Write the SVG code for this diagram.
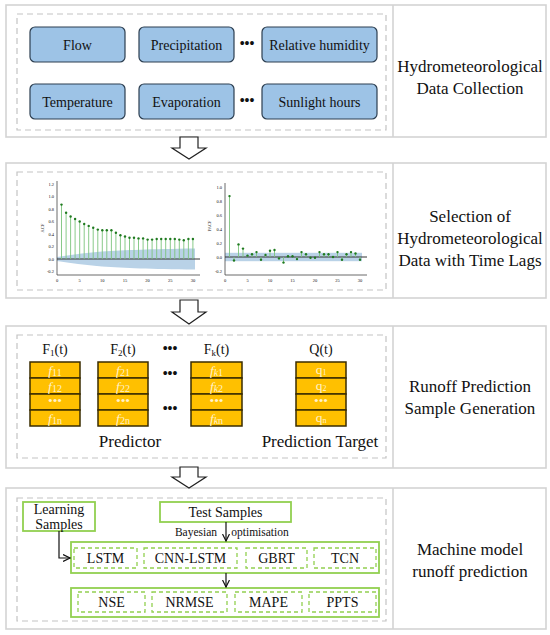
<svg xmlns="http://www.w3.org/2000/svg" width="550" height="635" viewBox="0 0 550 635" font-family="'Liberation Serif','Times New Roman',serif">
<defs>
<style>
text{font-family:"Liberation Serif","Times New Roman",serif;fill:#111}
.panel{fill:#fff;stroke:#d4d4d4;stroke-width:1.6}
.div{stroke:#d4d4d4;stroke-width:1.6}
.dash{fill:none;stroke:#c4c4c4;stroke-width:1.2;stroke-dasharray:6,4}
.blue{fill:#9dc3e6;stroke:#2c3e50;stroke-width:1.2}
.bt{font-size:14px;text-anchor:middle}
.rt{font-size:17px;text-anchor:middle}
.dots{font-size:14px;font-weight:bold;text-anchor:middle}
.yel{fill:#ffc000;stroke:#3a2c00;stroke-width:1.5}
.yt{font-size:13.5px;text-anchor:middle;fill:#fff2cc}
.lab{font-size:14px;text-anchor:middle}
.big{font-size:17px;text-anchor:middle}
.g{fill:none;stroke:#92d050;stroke-width:1.8}
.gd{fill:none;stroke:#92d050;stroke-width:1.3;stroke-dasharray:4,3}
.gt{font-size:14px;text-anchor:middle}
.blk{fill:#fff;stroke:#222;stroke-width:1.2}
.ax{stroke:#444;stroke-width:0.8;fill:none}
.st{stroke:#7cc47c;stroke-width:0.9}
.mk{fill:#1f7a1f}
.tk{font-size:4.5px;fill:#333}
.con{fill:none;stroke:#111;stroke-width:1.2}
</style>
<marker id="ah" viewBox="0 0 8 8" refX="7" refY="4" markerWidth="8" markerHeight="8" markerUnits="userSpaceOnUse" orient="auto">
<path d="M0,0.5 L7,4 L0,7.5" fill="none" stroke="#111" stroke-width="1.2"/>
</marker>
</defs>
<rect width="550" height="635" fill="#fff"/>

<!-- Panel 1 -->
<g id="panel1">
<rect class="panel" x="6" y="5" width="540" height="132"/>
<line class="div" x1="393" y1="5" x2="393" y2="137"/>
<rect class="dash" x="17" y="14" width="369" height="116"/>
<text class="rt" x="470" y="72">Hydrometeorological</text>
<text class="rt" x="470" y="94">Data Collection</text>
</g>
<g id="flow"><rect class="blue" x="30" y="27" width="95" height="35" rx="5"/><text class="bt" x="77.5" y="49.5">Flow</text></g>
<g id="precipitation"><rect class="blue" x="139" y="27" width="95" height="35" rx="5"/><text class="bt" x="186.5" y="49.5">Precipitation</text></g>
<g id="relhum"><rect class="blue" x="262" y="27" width="115" height="35" rx="5"/><text class="bt" x="319.5" y="49.5">Relative humidity</text></g>
<g id="temperature"><rect class="blue" x="30" y="84" width="95" height="35" rx="5"/><text class="bt" x="77.5" y="106.5">Temperature</text></g>
<g id="evaporation"><rect class="blue" x="139" y="84" width="95" height="35" rx="5"/><text class="bt" x="186.5" y="106.5">Evaporation</text></g>
<g id="sunlight"><rect class="blue" x="262" y="84" width="115" height="35" rx="5"/><text class="bt" x="319.5" y="106.5">Sunlight hours</text></g>
<text class="dots" x="247" y="48">•••</text>
<text class="dots" x="247" y="105">•••</text>

<!-- Panel 2 -->
<g id="panel2">
<rect class="panel" x="6" y="163" width="540" height="135"/>
<line class="div" x1="393" y1="163" x2="393" y2="298"/>
<rect class="dash" x="17" y="172" width="369" height="118"/>
<text class="rt" x="470" y="222">Selection of</text>
<text class="rt" x="470" y="244">Hydrometeorological</text>
<text class="rt" x="470" y="266">Data with Time Lags</text>
</g>
<g id="acf">
<path d="M57,257 C70,255 85,253 102,251.5 C125,250 150,249 195,248.4 L195,269.6 C150,269 125,268 102,266.5 C85,265 70,263 57,261 Z" fill="#a7c7e1" opacity="0.8"/>
<line class="ax" x1="57" y1="181" x2="57" y2="275"/>
<line class="ax" x1="57" y1="275" x2="200" y2="275"/>
<line x1="57" y1="259" x2="200" y2="259" stroke="#333" stroke-width="1"/>
<g class="st">
<line x1="61.5" y1="259" x2="61.5" y2="204.6"/><line x1="66.1" y1="259" x2="66.1" y2="212.8"/><line x1="70.6" y1="259" x2="70.6" y2="216.5"/><line x1="75.1" y1="259" x2="75.1" y2="219"/><line x1="79.7" y1="259" x2="79.7" y2="221.5"/><line x1="84.2" y1="259" x2="84.2" y2="224"/><line x1="88.7" y1="259" x2="88.7" y2="225.9"/><line x1="93.2" y1="259" x2="93.2" y2="227.8"/><line x1="97.8" y1="259" x2="97.8" y2="229.6"/><line x1="102.3" y1="259" x2="102.3" y2="230.3"/><line x1="106.8" y1="259" x2="106.8" y2="230.3"/><line x1="111.4" y1="259" x2="111.4" y2="230.3"/><line x1="115.9" y1="259" x2="115.9" y2="232.8"/><line x1="120.4" y1="259" x2="120.4" y2="235.3"/><line x1="125" y1="259" x2="125" y2="236.5"/><line x1="129.5" y1="259" x2="129.5" y2="237.8"/><line x1="134" y1="259" x2="134" y2="237.8"/><line x1="138.5" y1="259" x2="138.5" y2="238.4"/><line x1="143.1" y1="259" x2="143.1" y2="238.4"/><line x1="147.6" y1="259" x2="147.6" y2="239.6"/><line x1="152.1" y1="259" x2="152.1" y2="239.6"/><line x1="156.7" y1="259" x2="156.7" y2="239"/><line x1="161.2" y1="259" x2="161.2" y2="239"/><line x1="165.7" y1="259" x2="165.7" y2="239"/><line x1="170.3" y1="259" x2="170.3" y2="239"/><line x1="174.8" y1="259" x2="174.8" y2="239"/><line x1="179.3" y1="259" x2="179.3" y2="239.6"/><line x1="183.8" y1="259" x2="183.8" y2="240.3"/><line x1="188.4" y1="259" x2="188.4" y2="239"/><line x1="192.9" y1="259" x2="192.9" y2="239"/>
</g>
<g class="mk">
<circle cx="61.5" cy="204.6" r="1.2"/><circle cx="66.1" cy="212.8" r="1.2"/><circle cx="70.6" cy="216.5" r="1.2"/><circle cx="75.1" cy="219" r="1.2"/><circle cx="79.7" cy="221.5" r="1.2"/><circle cx="84.2" cy="224" r="1.2"/><circle cx="88.7" cy="225.9" r="1.2"/><circle cx="93.2" cy="227.8" r="1.2"/><circle cx="97.8" cy="229.6" r="1.2"/><circle cx="102.3" cy="230.3" r="1.2"/><circle cx="106.8" cy="230.3" r="1.2"/><circle cx="111.4" cy="230.3" r="1.2"/><circle cx="115.9" cy="232.8" r="1.2"/><circle cx="120.4" cy="235.3" r="1.2"/><circle cx="125" cy="236.5" r="1.2"/><circle cx="129.5" cy="237.8" r="1.2"/><circle cx="134" cy="237.8" r="1.2"/><circle cx="138.5" cy="238.4" r="1.2"/><circle cx="143.1" cy="238.4" r="1.2"/><circle cx="147.6" cy="239.6" r="1.2"/><circle cx="152.1" cy="239.6" r="1.2"/><circle cx="156.7" cy="239" r="1.2"/><circle cx="161.2" cy="239" r="1.2"/><circle cx="165.7" cy="239" r="1.2"/><circle cx="170.3" cy="239" r="1.2"/><circle cx="174.8" cy="239" r="1.2"/><circle cx="179.3" cy="239.6" r="1.2"/><circle cx="183.8" cy="240.3" r="1.2"/><circle cx="188.4" cy="239" r="1.2"/><circle cx="192.9" cy="239" r="1.2"/>
</g>
<g class="tk" text-anchor="end">
<text x="54" y="185.5">1.2</text><text x="54" y="198">1.0</text><text x="54" y="210.5">0.8</text><text x="54" y="223">0.6</text><text x="54" y="235.5">0.4</text><text x="54" y="248">0.2</text><text x="54" y="260.5">0.0</text><text x="54" y="273">-0.2</text>
</g>
<g class="tk" text-anchor="middle">
<text x="57" y="281.5">0</text><text x="79.7" y="281.5">5</text><text x="102.3" y="281.5">10</text><text x="125" y="281.5">15</text><text x="147.6" y="281.5">20</text><text x="170.3" y="281.5">25</text><text x="192.9" y="281.5">30</text>
</g>
<text class="tk" text-anchor="middle" transform="translate(44,228) rotate(-90)">ACF</text>
</g>
<g id="pacf">
<rect x="225" y="252.8" width="137" height="8.4" fill="#a7c7e1" opacity="0.8"/>
<line class="ax" x1="225" y1="183" x2="225" y2="275"/>
<line class="ax" x1="225" y1="275" x2="367" y2="275"/>
<line x1="225" y1="257" x2="367" y2="257" stroke="#333" stroke-width="1"/>
<g class="st">
<line x1="229.5" y1="257" x2="229.5" y2="196.1"/><line x1="234" y1="257" x2="234" y2="260.5"/><line x1="238.5" y1="257" x2="238.5" y2="244.4"/><line x1="243" y1="257" x2="243" y2="248.6"/><line x1="247.5" y1="257" x2="247.5" y2="255.6"/><line x1="252" y1="257" x2="252" y2="254.2"/><line x1="256.5" y1="257" x2="256.5" y2="252.1"/><line x1="261" y1="257" x2="261" y2="259.8"/><line x1="265.5" y1="257" x2="265.5" y2="254.9"/><line x1="270" y1="257" x2="270" y2="250.7"/><line x1="274.5" y1="257" x2="274.5" y2="250"/><line x1="279" y1="257" x2="279" y2="258.4"/><line x1="283.5" y1="257" x2="283.5" y2="262.6"/><line x1="288" y1="257" x2="288" y2="256.3"/><line x1="292.5" y1="257" x2="292.5" y2="256.3"/><line x1="297" y1="257" x2="297" y2="259.1"/><line x1="301.5" y1="257" x2="301.5" y2="252.1"/><line x1="306" y1="257" x2="306" y2="254.2"/><line x1="319.5" y1="257" x2="319.5" y2="252.1"/><line x1="324" y1="257" x2="324" y2="254.2"/><line x1="328.5" y1="257" x2="328.5" y2="254.2"/><line x1="337.5" y1="257" x2="337.5" y2="252.1"/><line x1="342" y1="257" x2="342" y2="259.8"/><line x1="346.5" y1="257" x2="346.5" y2="254.2"/><line x1="351" y1="257" x2="351" y2="252.1"/><line x1="355.5" y1="257" x2="355.5" y2="253.5"/><line x1="360" y1="257" x2="360" y2="259.8"/>
</g>
<g class="mk">
<circle cx="229.5" cy="196.1" r="1.2"/><circle cx="234" cy="260.5" r="1.2"/><circle cx="238.5" cy="244.4" r="1.2"/><circle cx="243" cy="248.6" r="1.2"/><circle cx="247.5" cy="255.6" r="1.2"/><circle cx="252" cy="254.2" r="1.2"/><circle cx="256.5" cy="252.1" r="1.2"/><circle cx="261" cy="259.8" r="1.2"/><circle cx="265.5" cy="254.9" r="1.2"/><circle cx="270" cy="250.7" r="1.2"/><circle cx="274.5" cy="250" r="1.2"/><circle cx="279" cy="258.4" r="1.2"/><circle cx="283.5" cy="262.6" r="1.2"/><circle cx="288" cy="256.3" r="1.2"/><circle cx="292.5" cy="256.3" r="1.2"/><circle cx="297" cy="259.1" r="1.2"/><circle cx="301.5" cy="252.1" r="1.2"/><circle cx="306" cy="254.2" r="1.2"/><circle cx="310.5" cy="257.7" r="1.2"/><circle cx="315" cy="257.7" r="1.2"/><circle cx="319.5" cy="252.1" r="1.2"/><circle cx="324" cy="254.2" r="1.2"/><circle cx="328.5" cy="254.2" r="1.2"/><circle cx="333" cy="257" r="1.2"/><circle cx="337.5" cy="252.1" r="1.2"/><circle cx="342" cy="259.8" r="1.2"/><circle cx="346.5" cy="254.2" r="1.2"/><circle cx="351" cy="252.1" r="1.2"/><circle cx="355.5" cy="253.5" r="1.2"/><circle cx="360" cy="259.8" r="1.2"/>
</g>
<g class="tk" text-anchor="end">
<text x="222" y="188.5">1.0</text><text x="222" y="202.5">0.8</text><text x="222" y="216.5">0.6</text><text x="222" y="230.5">0.4</text><text x="222" y="244.5">0.2</text><text x="222" y="258.5">0.0</text><text x="222" y="272.5">-0.2</text>
</g>
<g class="tk" text-anchor="middle">
<text x="225" y="281.5">0</text><text x="247.5" y="281.5">5</text><text x="270" y="281.5">10</text><text x="292.5" y="281.5">15</text><text x="315" y="281.5">20</text><text x="337.5" y="281.5">25</text><text x="360" y="281.5">30</text>
</g>
<text class="tk" text-anchor="middle" transform="translate(211,226) rotate(-90)">PACF</text>
</g>

<!-- Panel 3 -->
<g id="panel3">
<rect class="panel" x="6" y="326" width="540" height="142"/>
<line class="div" x1="393" y1="326" x2="393" y2="468"/>
<rect class="dash" x="17" y="335" width="369" height="123"/>
<text class="rt" x="470" y="392">Runoff Prediction</text>
<text class="rt" x="470" y="414">Sample Generation</text>
<text class="big" x="130" y="447">Predictor</text>
<text class="big" x="320" y="447">Prediction Target</text>
</g>
<g id="col1">
<text class="lab" x="55" y="354">F<tspan font-size="9" dy="2">1</tspan><tspan dy="-2">(t)</tspan></text>
<rect class="yel" x="30" y="362" width="50" height="16"/><rect class="yel" x="30" y="378" width="50" height="16"/><rect class="yel" x="30" y="394" width="50" height="16"/><rect class="yel" x="30" y="410" width="50" height="16"/>
<text class="yt" x="55" y="374.5"><tspan font-style="italic">f</tspan><tspan font-size="10" dy="1.5">11</tspan></text>
<text class="yt" x="55" y="390.5"><tspan font-style="italic">f</tspan><tspan font-size="10" dy="1.5">12</tspan></text>
<text class="yt" x="55" y="405" font-size="10">•••</text>
<text class="yt" x="55" y="422.5"><tspan font-style="italic">f</tspan><tspan font-size="10" dy="1.5">1n</tspan></text>
</g>
<g id="col2">
<text class="lab" x="123" y="354">F<tspan font-size="9" dy="2">2</tspan><tspan dy="-2">(t)</tspan></text>
<rect class="yel" x="98" y="362" width="50" height="16"/><rect class="yel" x="98" y="378" width="50" height="16"/><rect class="yel" x="98" y="394" width="50" height="16"/><rect class="yel" x="98" y="410" width="50" height="16"/>
<text class="yt" x="123" y="374.5"><tspan font-style="italic">f</tspan><tspan font-size="10" dy="1.5">21</tspan></text>
<text class="yt" x="123" y="390.5"><tspan font-style="italic">f</tspan><tspan font-size="10" dy="1.5">22</tspan></text>
<text class="yt" x="123" y="405" font-size="10">•••</text>
<text class="yt" x="123" y="422.5"><tspan font-style="italic">f</tspan><tspan font-size="10" dy="1.5">2n</tspan></text>
</g>
<g id="colk">
<text class="lab" x="216.5" y="354">F<tspan font-size="9" dy="2">k</tspan><tspan dy="-2">(t)</tspan></text>
<rect class="yel" x="191" y="362" width="51" height="16"/><rect class="yel" x="191" y="378" width="51" height="16"/><rect class="yel" x="191" y="394" width="51" height="16"/><rect class="yel" x="191" y="410" width="51" height="16"/>
<text class="yt" x="216.5" y="374.5"><tspan font-style="italic">f</tspan><tspan font-size="10" dy="1.5" font-style="italic">k</tspan><tspan font-size="10">1</tspan></text>
<text class="yt" x="216.5" y="390.5"><tspan font-style="italic">f</tspan><tspan font-size="10" dy="1.5" font-style="italic">k</tspan><tspan font-size="10">2</tspan></text>
<text class="yt" x="216.5" y="405" font-size="10">•••</text>
<text class="yt" x="216.5" y="422.5"><tspan font-style="italic">f</tspan><tspan font-size="10" dy="1.5" font-style="italic">k</tspan><tspan font-size="10">n</tspan></text>
</g>
<g id="colq">
<text class="lab" x="321" y="354">Q(t)</text>
<rect class="yel" x="296" y="362" width="50" height="16"/><rect class="yel" x="296" y="378" width="50" height="16"/><rect class="yel" x="296" y="394" width="50" height="16"/><rect class="yel" x="296" y="410" width="50" height="16"/>
<text class="yt" x="321" y="373.5" font-size="12">q<tspan font-size="8" dy="1.5">1</tspan></text>
<text class="yt" x="321" y="389.5" font-size="12">q<tspan font-size="8" dy="1.5">2</tspan></text>
<text class="yt" x="321" y="405" font-size="10">•••</text>
<text class="yt" x="321" y="421.5" font-size="12">q<tspan font-size="8" dy="1.5">n</tspan></text>
</g>
<text class="dots" x="170" y="353" font-size="11">•••</text>
<text class="dots" x="170" y="378" font-size="11">•••</text>
<text class="dots" x="170" y="413" font-size="11">•••</text>

<!-- Panel 4 -->
<g id="panel4">
<rect class="panel" x="6" y="488" width="540" height="141"/>
<line class="div" x1="393" y1="488" x2="393" y2="629"/>
<rect class="dash" x="17" y="498" width="369" height="123"/>
<text class="rt" x="470" y="555">Machine model</text>
<text class="rt" x="470" y="577">runoff prediction</text>
</g>
<g id="learning"><rect class="g" x="23" y="502" width="72" height="29"/><text class="gt" x="59" y="514">Learning</text><text class="gt" x="59" y="529">Samples</text></g>
<g id="test"><rect class="g" x="160" y="502" width="131" height="20"/><text class="gt" x="225.5" y="517">Test Samples</text></g>
<text x="196" y="536" font-size="11.5" text-anchor="middle">Bayesian</text>
<text x="260" y="536" font-size="11.5" text-anchor="middle">optimisation</text>
<g id="models">
<rect class="g" x="71" y="542" width="308" height="31"/>
<rect class="gd" x="74" y="548" width="63" height="20"/><text class="gt" x="105.5" y="563">LSTM</text>
<rect class="gd" x="144" y="548" width="93" height="20"/><text class="gt" x="190.5" y="563">CNN-LSTM</text>
<rect class="gd" x="246" y="548" width="61" height="20"/><text class="gt" x="276.5" y="563">GBRT</text>
<rect class="gd" x="314" y="548" width="62" height="20"/><text class="gt" x="345" y="563">TCN</text>
</g>
<g id="metrics">
<rect class="g" x="71" y="588" width="308" height="29"/>
<rect class="gd" x="78" y="592" width="67" height="20"/><text class="gt" x="111.5" y="607">NSE</text>
<rect class="gd" x="152" y="592" width="75" height="20"/><text class="gt" x="189.5" y="607">NRMSE</text>
<rect class="gd" x="235" y="592" width="67" height="20"/><text class="gt" x="268.5" y="607">MAPE</text>
<rect class="gd" x="309" y="592" width="67" height="20"/><text class="gt" x="342.5" y="607">PPTS</text>
</g>

<!-- Connectors -->
<g id="connectors">
<path class="blk" d="M180,137 L198,137 L198,148 L206,148 L189,159 L172,148 L180,148 Z"/>
<path class="blk" d="M180,300 L198,300 L198,312 L206,312 L189,324 L172,312 L180,312 Z"/>
<path class="blk" d="M180,467 L198,467 L198,477 L206,477 L189,488 L172,477 L180,477 Z"/>
<line class="con" x1="226" y1="522" x2="226" y2="541" marker-end="url(#ah)"/>
<polyline class="con" points="59,531 59,558 70,558" marker-end="url(#ah)"/>
<line class="con" x1="226" y1="573" x2="226" y2="587" marker-end="url(#ah)"/>
</g>
</svg>
